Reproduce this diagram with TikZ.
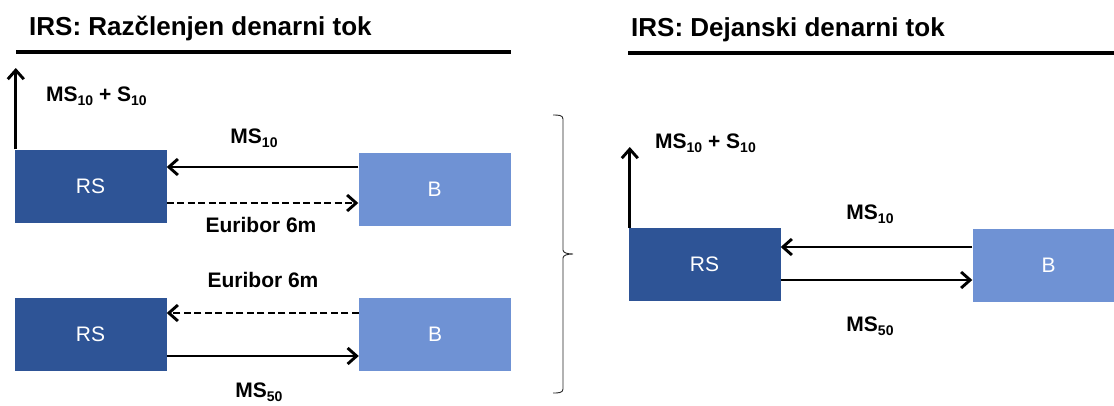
\documentclass[tikz,border=0pt]{standalone}
\usepackage{fontspec}
\setmainfont{Liberation Sans}
\usetikzlibrary{arrows.meta}
\definecolor{rsblue}{RGB}{46,84,150}
\definecolor{bblue}{RGB}{111,146,212}
\newcommand\sbs[1]{\raisebox{-4.5pt}{\fontsize{14}{14}\selectfont #1}}

\begin{document}
\begin{tikzpicture}[x=1pt,y=-1pt,
  rsbox/.style={fill=rsblue, minimum width=152pt, minimum height=73pt, inner sep=0pt,
    text=white, font=\fontsize{21}{21}\selectfont},
  bbox/.style={rsbox, fill=bblue},
  flow/.style={line width=2.9pt, -{Straight Barb[length=9pt,width=16pt]}},
  dashflow/.style={flow, dash pattern=on 7pt off 3.5pt},
  lbl/.style={font=\fontsize{21}{21}\selectfont\bfseries, inner sep=0pt},
  ttl/.style={font=\fontsize{26}{26}\selectfont\bfseries, inner sep=0pt, anchor=base west},
  rule/.style={line width=3.5pt},
  brace/.style={line width=0.9pt, black!85}]

\useasboundingbox (0,0) rectangle (1114,405);
\clip (0,0) rectangle (1114,405);

% ---------- left panel: split cash flows ----------
\node[ttl] (t1) at (29,35) {IRS: Razčlenjen denarni tok};
\draw[rule] (16,52) -- (511,52);

\node[rsbox] (rs1) at (90.5,186) {RS};
\node[bbox]  (b1)  at (434.5,189) {B};
\node[rsbox] (rs2) at (90.5,334.5) {RS};
\node[bbox]  (b2)  at (435,334.5) {B};

\coordinate (up1) at (16,68);
\coordinate (y1) at (0,167);
\coordinate (y2) at (0,203);
\coordinate (y3) at (0,313);
\coordinate (y4) at (0,356);

\draw[flow] (rs1.north west) ++(1.5,0) coordinate (u1) -- (u1 |- up1);
\draw[flow] (b1.west |- y1) -- (rs1.east |- y1);
\draw[dashflow] (rs1.east |- y2) -- (b1.west |- y2);
\draw[dashflow] (b2.west |- y3) -- (rs2.east |- y3);
\draw[flow] (rs2.east |- y4) -- (b2.west |- y4);

\node[lbl, anchor=west] (l1) at (46,96) {MS\sbs{10} + S\sbs{10}};
\node[lbl] (l2) at (254,138) {MS\sbs{10}};
\node[lbl] (l3) at (261,225) {Euribor 6m};
\node[lbl] (l4) at (263,280) {Euribor 6m};
\node[lbl] (l5) at (259,392) {MS\sbs{50}};

% ---------- brace joining the two legs ----------
\draw[brace] (553,115) .. controls (558,115) and (563,115) .. (563,119)
  -- (563,250) .. controls (563,253) and (568,254) .. (573,254)
  .. controls (568,254) and (563,255) .. (563,258)
  -- (563,389) .. controls (563,393) and (558,393) .. (553,393);

% ---------- right panel: net cash flows ----------
\node[ttl] (t2) at (631,36) {IRS: Dejanski denarni tok};
\draw[rule] (628,53) -- (1114,53);

\node[rsbox] (rs3) at (704.5,264.5) {RS};
\node[bbox]  (b3)  at (1048.5,265) {B};

\coordinate (up3) at (628,147);
\coordinate (y5) at (0,247);
\coordinate (y6) at (0,280);

\draw[flow] (rs3.north west) ++(1.5,0) coordinate (u3) -- (u3 |- up3);
\draw[flow] (b3.west |- y5) -- (rs3.east |- y5);
\draw[flow] (rs3.east |- y6) -- (b3.west |- y6);

\node[lbl, anchor=west] (l6) at (655,143) {MS\sbs{10} + S\sbs{10}};
\node[lbl] (l7) at (870,214) {MS\sbs{10}};
\node[lbl] (l8) at (870,326) {MS\sbs{50}};
\end{tikzpicture}
\end{document}
